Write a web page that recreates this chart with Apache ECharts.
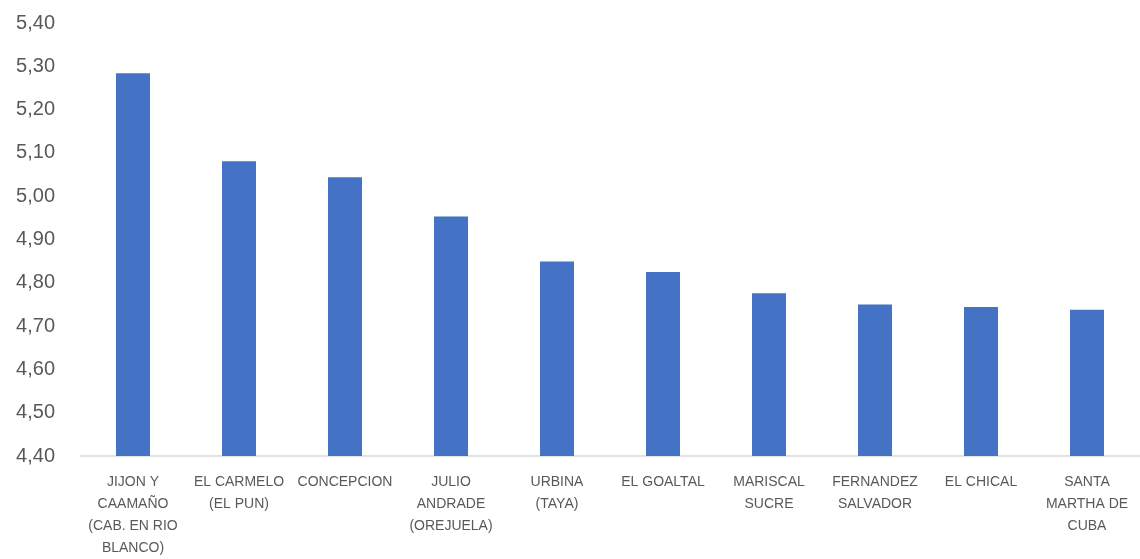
<!DOCTYPE html>
<html>
<head>
<meta charset="utf-8">
<script src="https://cdn.jsdelivr.net/npm/echarts@6/dist/echarts.min.js"></script>
<style>
  html, body { margin: 0; padding: 0; background: #fff; }
  #chart { width: 1140px; height: 559px; }
</style>
</head>
<body>
<div id="chart"></div>
<script>
// categorias (parroquias) y valores
var parroquias = [
  "JIJON Y\nCAAMAÑO\n(CAB. EN RIO\nBLANCO)",
  "EL CARMELO\n(EL PUN)",
  "CONCEPCION",
  "JULIO\nANDRADE\n(OREJUELA)",
  "URBINA\n(TAYA)",
  "EL GOALTAL",
  "MARISCAL\nSUCRE",
  "FERNANDEZ\nSALVADOR",
  "EL CHICAL",
  "SANTA\nMARTHA DE\nCUBA"
];
var valores = [5.284, 5.081, 5.044, 4.953, 4.849, 4.825, 4.776, 4.750, 4.744, 4.738];

var yMin = 4.4;
var yMax = 5.4;
var yStep = 0.1;

var myChart = echarts.init(document.getElementById("chart"));

var option = {
  animation: false,
  grid: {
    left: 80,
    right: -6,
    top: 23,
    bottom: 101,
    containLabel: false
  },
  xAxis: {
    type: "category",
    data: parroquias,
    axisLine: { lineStyle: { color: "#d9d9d9", width: 1.5 } },
    axisTick: { show: false },
    axisLabel: {
      color: "#595959",
      fontFamily: "Liberation Sans",
      fontSize: 14,
      lineHeight: 22,
      margin: 15,
      interval: 0
    }
  },
  yAxis: {
    type: "value",
    min: yMin,
    max: yMax,
    interval: yStep,
    splitLine: { show: false },
    axisLine: { show: false },
    axisTick: { show: false },
    axisLabel: {
      color: "#595959",
      fontFamily: "Liberation Sans",
      fontSize: 20,
      margin: 25,
      formatter: function (v) {
        return v.toFixed(2).replace(".", ",");
      }
    }
  },
  series: [
    {
      type: "bar",
      data: valores,
      barWidth: 34,
      itemStyle: { color: "#4472c4" }
    }
  ]
};
myChart.setOption(option);
</script>
</body>
</html>
